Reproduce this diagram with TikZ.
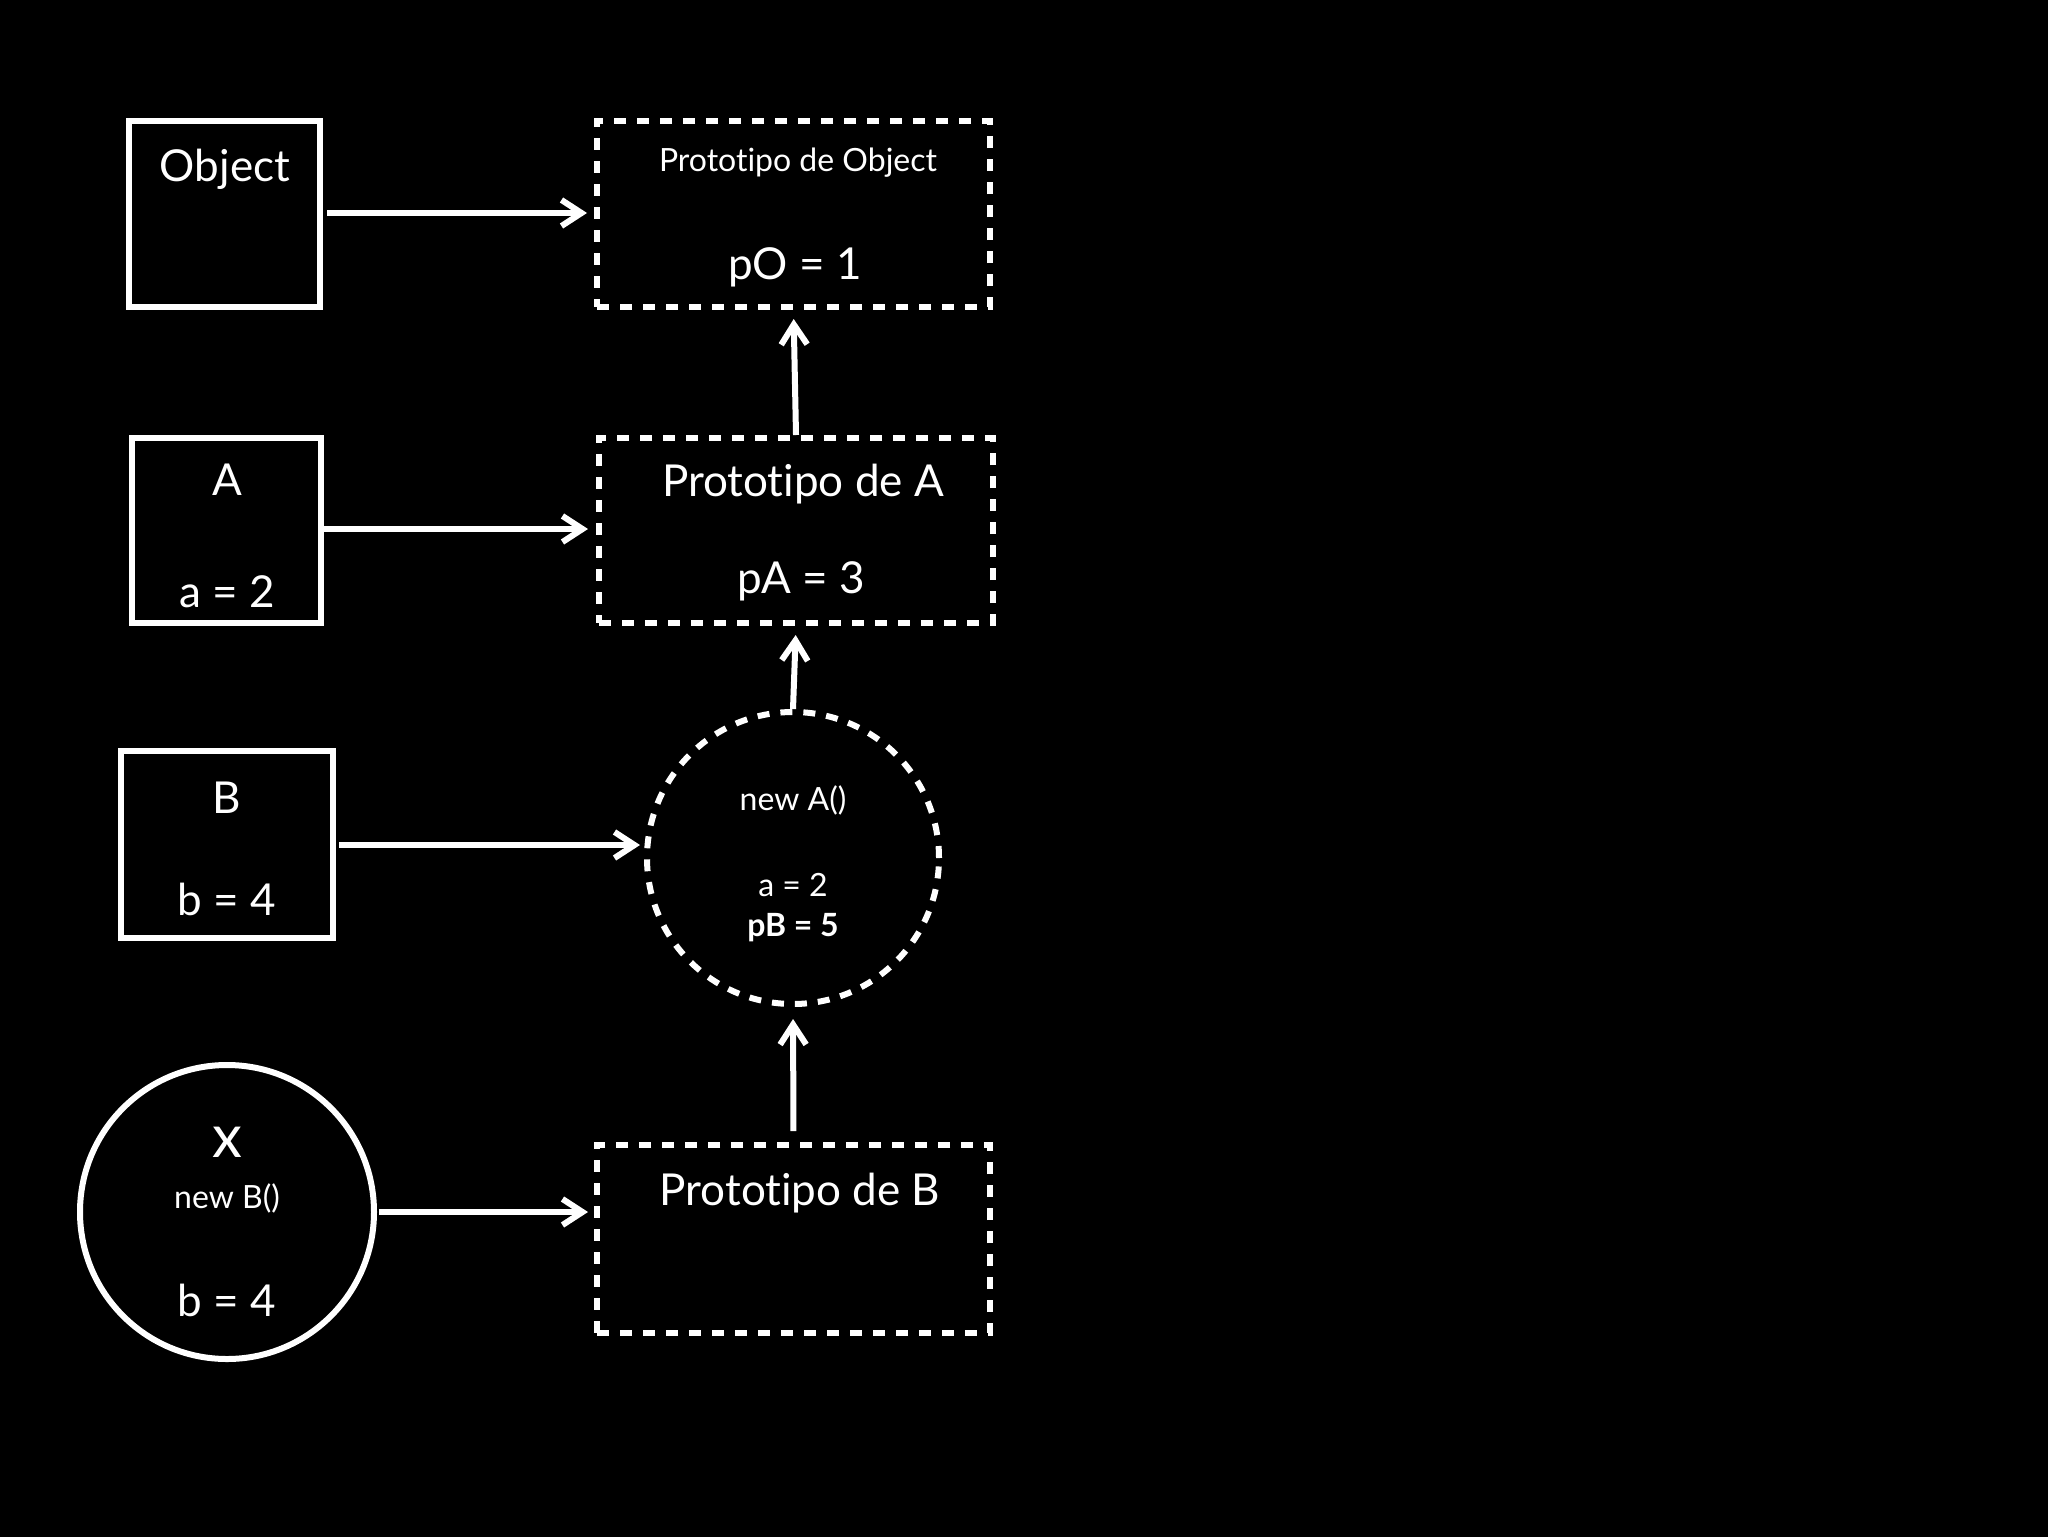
\documentclass[tikz,border=0pt]{standalone}
\usepackage{fontspec}
\setmainfont{Lato}[Ligatures={NoCommon,NoDiscretionary,NoRare}]
\usetikzlibrary{arrows.meta}
\begin{document}
\begin{tikzpicture}[x=0.5pt,y=-0.5pt,
  every node/.style={text=white},
  solidbox/.style={draw=white, line width=3pt, inner sep=0pt, rectangle},
  dashbox/.style={draw=white, line width=3pt, inner sep=0pt, rectangle, dash pattern=on 6pt off 5.5pt},
  solidcirc/.style={draw=white, line width=3pt, inner sep=0pt, circle},
  dashcirc/.style={draw=white, line width=3pt, inner sep=0pt, circle, dash pattern=on 6pt off 5.5pt},
  big/.style={font=\fontsize{22}{26}\selectfont, anchor=base, inner sep=0pt},
  small/.style={font=\fontsize{16}{19}\selectfont, anchor=base, inner sep=0pt},
  conn/.style={draw=white, line width=3pt, -{Straight Barb[length=10pt,width=13pt]}}
]
\useasboundingbox (0,0) rectangle (2048,1536);
\fill[black] (-20,-20) rectangle (2068,1556);

% boxes
\node[solidbox, minimum width=95.5pt, minimum height=93pt] (obj) at (224.5,214) {};
\node[dashbox, minimum width=196.5pt, minimum height=93pt] (pobj) at (793.5,214) {};
\node[solidbox, minimum width=94.5pt, minimum height=92.5pt] (a) at (226.5,530.5) {};
\node[dashbox, minimum width=197pt, minimum height=92.5pt] (pa) at (796,530.5) {};
\node[solidbox, minimum width=106pt, minimum height=93.5pt] (b) at (227,844.5) {};
\node[dashcirc, minimum size=146pt] (na) at (793,858) {};
\node[solidcirc, minimum size=147pt] (x) at (227,1212) {};
\node[dashbox, minimum width=196.5pt, minimum height=94pt] (pb) at (793.5,1239) {};

% texts
\node[big] (tobj) at (225,181) {Object};
\node[small] (tpobj) at (798,171) {Prototipo de Object};
\node[big] (tpo) at (795,279) {pO = 1};
\node[big] (ta) at (227,495) {A};
\node[big] (taa) at (227,607) {a = 2};
\node[big] (tpa) at (803,496) {Prototipo de A};
\node[big] (tpav) at (801,593) {pA = 3};
\node[big] (tb) at (227,813) {B};
\node[big] (tbb) at (227,915) {b = 4};
\node[small] (tna) at (793,810) {new A()};
\node[small] (tnaa) at (793,896) {a = 2};
\node[small, font=\fontsize{16}{19}\selectfont\bfseries] (tnpb) at (793,936) {pB = 5};
\node[big, font=\fontsize{30}{34}\selectfont] (tx) at (227,1157) {x};
\node[small] (tnb) at (227,1208) {new B()};
\node[big] (txb) at (227,1316) {b = 4};
\node[big] (tpb) at (800,1205) {Prototipo de B};

% connectors
\draw[conn, shorten <=2pt, shorten >=3.5pt] (obj.east |- 0,213) -- (pobj.west |- 0,213);
\draw[conn, shorten >=4.5pt] (pa.north) -- (pobj.south);
\draw[conn, shorten >=4pt] (a.east |- 0,529) -- (pa.west |- 0,529);
\draw[conn, shorten >=4.5pt] (na.north) -- (pa.south);
\draw[conn, shorten <=1.5pt, shorten >=2pt] (b.east |- 0,845) -- (na.west |- 0,845);
\draw[conn, shorten <=5.5pt, shorten >=6pt] (pb.north) -- (na.south);
\draw[conn, shorten <=1pt, shorten >=3pt] (x.east) -- (pb.west |- x.east);
\end{tikzpicture}
\end{document}
